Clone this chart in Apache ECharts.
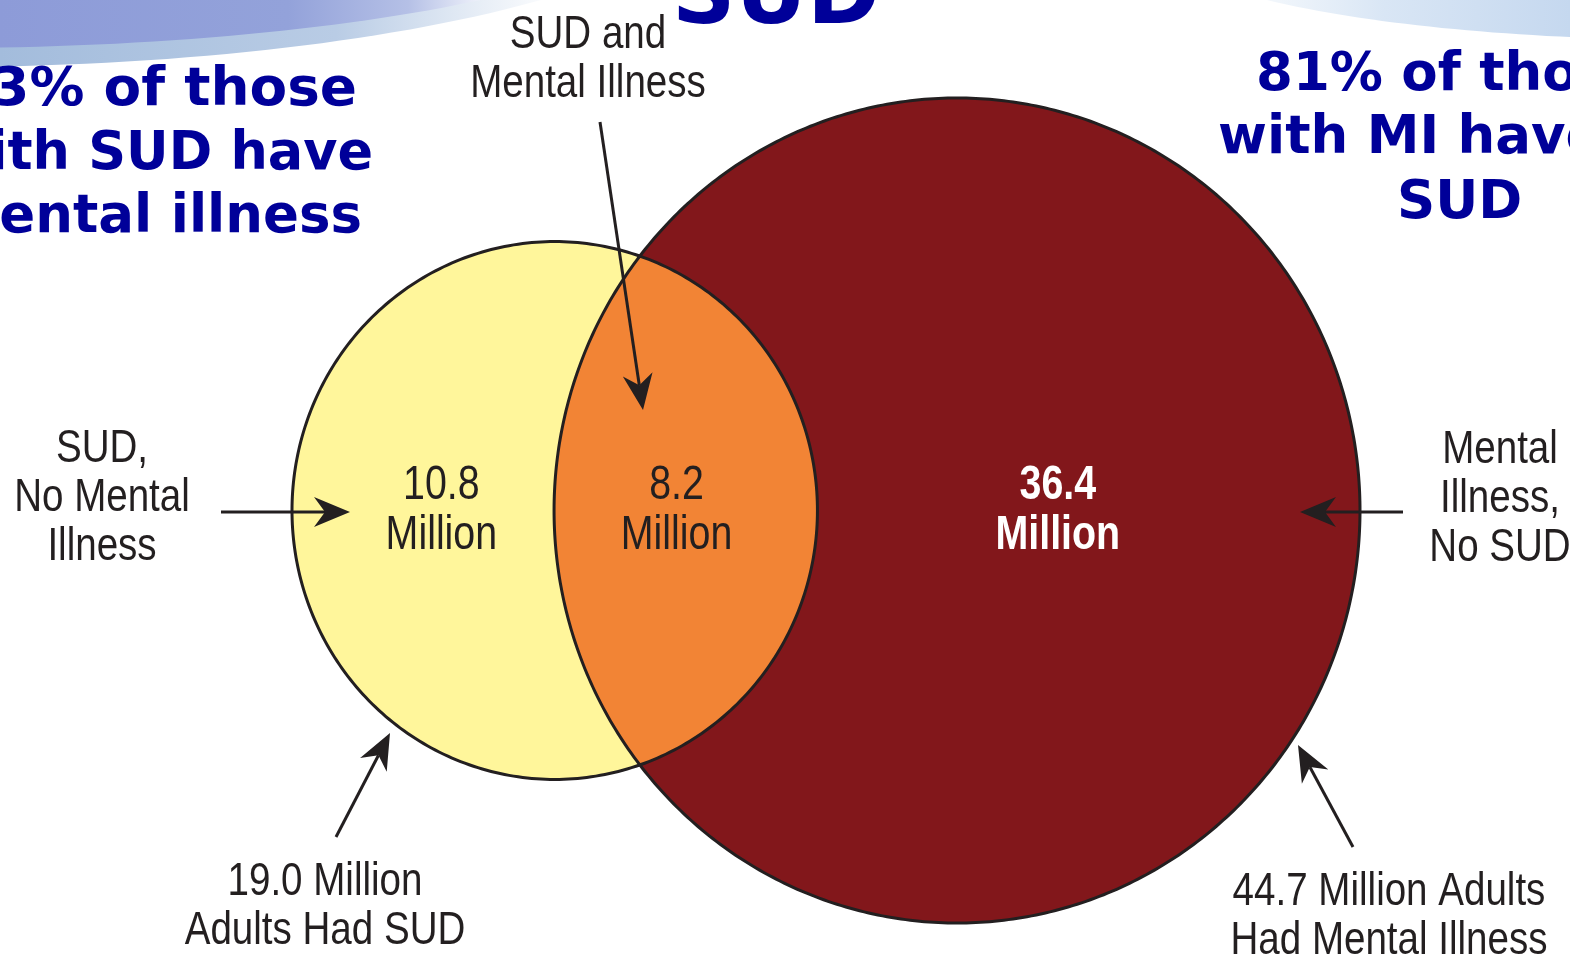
<!DOCTYPE html>
<html><head><meta charset="utf-8">
<script src="https://cdn.jsdelivr.net/npm/echarts@6/dist/echarts.min.js"></script>
<style>html,body{margin:0;padding:0;background:#fff;overflow:hidden}#c{width:1570px;height:956px}</style>
</head><body><div id="c"></div>
<script>
// ---- data ----
const setNames = ['SUD', 'Mental Illness'];
const setTotals = [19.0, 44.7];                 // million adults
const regionNames = ['SUD, No Mental Illness', 'SUD and Mental Illness', 'Mental Illness, No SUD'];
const regionValues = [10.8, 8.2, 36.4];         // million adults
const regionUnit = 'Million';
const totalLabels = ['19.0 Million\nAdults Had SUD', '44.7 Million Adults\nHad Mental Illness'];
const regionCallouts = ['SUD,\nNo Mental\nIllness', 'SUD and\nMental Illness', 'Mental\nIllness,\nNo SUD'];
const leftNote = ['43% of those', 'with SUD have', 'mental illness'];
const rightNote = ['81% of those', 'with MI have', 'SUD'];
const titleText = 'SUD';

// ---- area-proportional geometry ----
const r1 = Math.sqrt(setTotals[0]);
const r2 = Math.sqrt(setTotals[1]);
function lensArea(d) {
  const a = r1 * r1 * Math.acos((d * d + r1 * r1 - r2 * r2) / (2 * d * r1));
  const b = r2 * r2 * Math.acos((d * d + r2 * r2 - r1 * r1) / (2 * d * r2));
  const c = 0.5 * Math.sqrt((-d + r1 + r2) * (d + r1 - r2) * (d - r1 + r2) * (d + r1 + r2));
  return a + b - c;
}
const target = Math.PI * regionValues[1];
let lo = r2 - r1 + 1e-6, hi = r1 + r2 - 1e-6;
for (let i = 0; i < 80; i++) { const m = (lo + hi) / 2; if (lensArea(m) > target) lo = m; else hi = m; }
const dist = (lo + hi) / 2;
const xi = (dist * dist + r1 * r1 - r2 * r2) / (2 * dist);
const yi = Math.sqrt(r1 * r1 - xi * xi);
const th1 = Math.atan2(yi, xi), th2 = Math.atan2(yi, dist - xi);

const INK = '#231f20';
const NARROW = '"Liberation Sans", Arial, sans-serif';
const SX = 0.82;

function arcPts(api, cx, r, a0, a1, n) {
  const pts = [];
  for (let i = 0; i <= n; i++) {
    const t = a0 + (a1 - a0) * i / n;
    pts.push(api.coord([cx + r * Math.cos(t), r * Math.sin(t)]));
  }
  return pts;
}

// label anchors as fraction along each region's horizontal span
const spans = [[-r1, dist - r2], [dist - r2, r1], [r1, dist + r2]];
const labelFrac = [0.57, 0.465, 0.443];
const labelColors = [INK, INK, '#ffffff'];
const labelWeights = ['normal', 'normal', 'bold'];

function renderVenn(params, api) {
  const children = [];
  children.push({ type: 'polygon', shape: { points: arcPts(api, 0, r1, 0, Math.PI * 2, 360) }, style: { fill: '#fff69b' } });
  children.push({ type: 'polygon', shape: { points: arcPts(api, dist, r2, 0, Math.PI * 2, 540) }, style: { fill: '#82171b' } });
  const lens = arcPts(api, 0, r1, -th1, th1, 200).concat(arcPts(api, dist, r2, Math.PI - th2, Math.PI + th2, 200));
  children.push({ type: 'polygon', shape: { points: lens }, style: { fill: '#f28435' } });
  children.push({ type: 'polygon', shape: { points: arcPts(api, 0, r1, 0, Math.PI * 2, 360) }, style: { fill: 'none', stroke: INK, lineWidth: 3 } });
  children.push({ type: 'polygon', shape: { points: arcPts(api, dist, r2, 0, Math.PI * 2, 540) }, style: { fill: 'none', stroke: INK, lineWidth: 3 } });
  regionValues.forEach((v, i) => {
    const s = spans[i];
    const p = api.coord([s[0] + (s[1] - s[0]) * labelFrac[i], 0]);
    children.push({
      type: 'text', x: p[0], y: p[1], scaleX: SX,
      style: { text: v.toFixed(1) + '\n' + regionUnit, fill: labelColors[i],
        font: labelWeights[i] + ' 48px ' + NARROW, align: 'center', verticalAlign: 'middle', lineHeight: 50 }
    });
  });
  return { type: 'group', children };
}

function ellipsePoly(cx, cy, rx, ry) {
  const pts = [];
  for (let i = 0; i < 240; i++) { const t = i / 240 * Math.PI * 2; pts.push([cx + rx * Math.cos(t), cy + ry * Math.sin(t)]); }
  return pts;
}
function arrow(x1, y1, x2, y2) {
  const a = Math.atan2(y2 - y1, x2 - x1), ux = Math.cos(a), uy = Math.sin(a), nx = -uy, ny = ux;
  const L = 36, W = 15, N = 11;
  return [
    { type: 'line', shape: { x1, y1, x2: x2 - (L - N) * ux, y2: y2 - (L - N) * uy }, style: { stroke: INK, lineWidth: 3 } },
    { type: 'polygon', shape: { points: [[x2, y2], [x2 - L * ux + W * nx, y2 - L * uy + W * ny], [x2 - (L - N) * ux, y2 - (L - N) * uy], [x2 - L * ux - W * nx, y2 - L * uy - W * ny]] }, style: { fill: INK } }
  ];
}
function narrowText(text, x, y) {
  return { type: 'text', x, y, scaleX: SX, style: { text, fill: INK, font: '47px ' + NARROW, align: 'center', verticalAlign: 'middle', lineHeight: 49 } };
}
function blueText(text, x, y, align, sx) {
  return { type: 'text', x, y, scaleX: sx, style: { text, fill: '#000099', font: 'bold 53px "DejaVu Sans", Verdana, sans-serif', align, verticalAlign: 'middle' } };
}
const G = (x0, y0, x1, y1, stops) => new echarts.graphic.LinearGradient(x0, y0, x1, y1, stops, true);

const graphics = [];
// decorative swooshes
graphics.push({ type: 'polygon', z: -10, shape: { points: ellipsePoly(-60, -130, 800, 197) },
  style: { fill: G(0, 0, 560, 0, [{ offset: 0, color: '#a3bcdc' }, { offset: 0.6, color: '#b9cce5' }, { offset: 0.85, color: '#e6edf6' }, { offset: 1, color: '#ffffff' }]) } });
graphics.push({ type: 'polygon', z: -9, shape: { points: ellipsePoly(-60, -110, 753, 158) },
  style: { fill: G(0, 0, 480, 0, [{ offset: 0, color: '#8d9bd8' }, { offset: 0.6, color: '#93a2da' }, { offset: 0.85, color: '#b5c0e6' }, { offset: 1, color: '#eef1fa' }]) } });
graphics.push({ type: 'polygon', z: -10, shape: { points: ellipsePoly(1700, -60, 541, 100) },
  style: { fill: G(1260, 0, 1570, 0, [{ offset: 0, color: '#f4f8fc' }, { offset: 0.4, color: '#d9e6f5' }, { offset: 1, color: '#c5d8ef' }]) } });
// title fragment
graphics.push({ type: 'text', x: 776, y: 0, style: { text: titleText, fill: '#000099', font: 'bold 88px "DejaVu Sans", Verdana, sans-serif', align: 'center', verticalAlign: 'middle' } });
// notes
[[91, 357, 1.035], [155, 373, 0.99], [218, 362, 1.0]].forEach((p, i) => graphics.push(blueText(leftNote[i], p[1], p[0], 'right', p[2])));
[[76, 1256, 1.0], [139, 1218, 1.0], [204, 1397, 1]].forEach((p, i) => graphics.push(blueText(rightNote[i], p[1], p[0], 'left', p[2])));
// callouts
graphics.push(narrowText(regionCallouts[0], 102, 498));
graphics.push(narrowText(regionCallouts[1], 588, 60));
graphics.push(narrowText(regionCallouts[2], 1500, 499));
graphics.push(narrowText(totalLabels[0], 325, 907));
graphics.push(narrowText(totalLabels[1], 1389, 917));
// arrows
[[221, 512, 350, 512], [600, 122, 643, 410], [1403, 512, 1300, 512], [336, 837, 390, 733], [1353, 847, 1298, 745]]
  .forEach(a => arrow(...a).forEach(e => graphics.push(Object.assign({ z: 100 }, e))));

const chart = echarts.init(document.getElementById('c'), null, { renderer: 'canvas' });
chart.setOption({
  animation: false,
  backgroundColor: '#ffffff',
  grid: { left: 292, right: 210, top: 98, bottom: 33 },
  xAxis: { type: 'value', min: -r1, max: dist + r2, show: false },
  yAxis: { type: 'value', min: -r2, max: r2, show: false },
  series: [{ type: 'custom', name: setNames.join(' & '), coordinateSystem: 'cartesian2d', renderItem: renderVenn, data: [[0, 0]], silent: true, clip: false }],
  graphic: { elements: graphics }
});
</script></body></html>
